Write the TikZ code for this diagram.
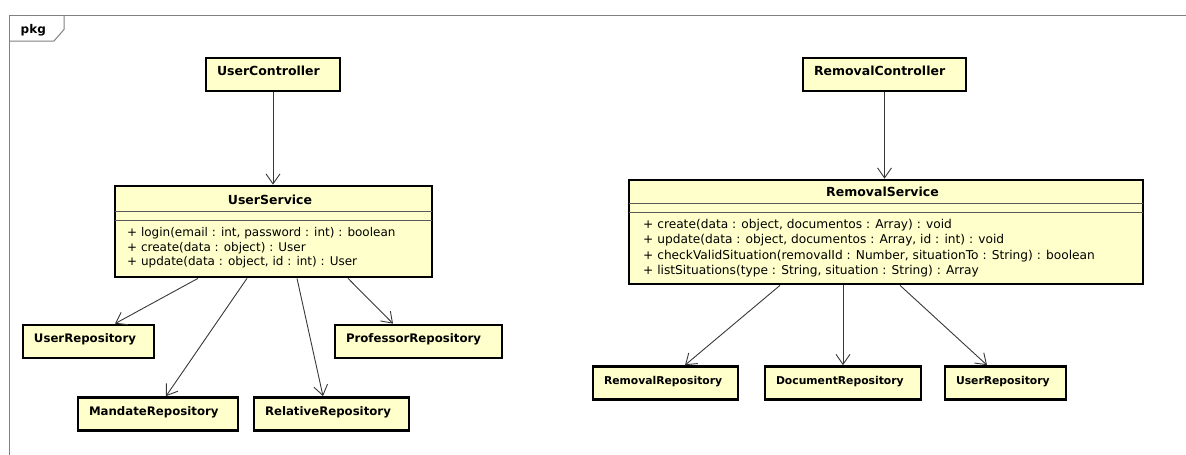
\documentclass[tikz,border=0pt]{standalone}
\usepackage{fontspec}
\setmainfont{DejaVu Sans}
\usetikzlibrary{arrows.meta}
\definecolor{clsfill}{HTML}{FFFFCC}
\definecolor{edgec}{HTML}{383838}
\definecolor{framec}{HTML}{808080}
\definecolor{sepc}{HTML}{5A5A5A}
\begin{document}
\begin{tikzpicture}[x=1pt,y=-1pt,
  cls/.style={draw=black, line width=2.7pt, fill=clsfill, inner sep=0pt},
  simplecls/.style={cls, inner xsep=11pt, minimum height=33pt, align=left,
    text height=9.5pt, text depth=7pt, font=\fontsize{12.5}{15}\selectfont\bfseries},
  leftrepo/.style={simplecls, font=\fontsize{11.75}{14}\selectfont\bfseries},
  rightrepo/.style={simplecls, font=\fontsize{10.8}{13}\selectfont\bfseries},
  clsname/.style={anchor=base, inner sep=0pt, font=\fontsize{12.5}{15}\selectfont\bfseries},
  method/.style={anchor=base west, inner sep=0pt, font=\fontsize{12}{14}\selectfont},
  rmethod/.style={method, font=\fontsize{12.2}{14}\selectfont},
  sepline/.style={draw=sepc, line width=1pt},
  dep/.style={draw=edgec, line width=0.9pt,
    -{Straight Barb[length=10pt,width=14pt,line width=0.9pt]}},
  framel/.style={draw=framec, line width=1pt}
]
\useasboundingbox (0,0) rectangle (1186,455);

% package frame and its tab
\draw[framel] (9.5,455) -- (9.5,15.5) -- (1186,15.5);
\draw[framel] (9.5,41) -- (54,41) -- (64,29.5) -- (64,15.5);
\node[anchor=base west, inner sep=0pt, font=\fontsize{12}{14}\selectfont\bfseries] (pkg) at (20.5,33.5) {pkg};

% ---------- user side ----------
\node[simplecls, text width=112pt] (uc) at (273,74.5) {UserController};

\node[cls, minimum width=317pt, minimum height=91pt] (us) at (273.5,231.5) {};
\node[clsname] (usname) at (270,204.5) {UserService};
\draw[sepline] (115,211) -- (432,211);
\draw[sepline] (115,220) -- (432,220);
\node[method] (usm1) at (127,236.5) {+ login(email : int, password : int) : boolean};
\node[method] (usm2) at (127,251) {+ create(data : object) : User};
\node[method] (usm3) at (127,265.5) {+ update(data : object, id : int) : User};

\node[leftrepo, text width=109pt] (urepo) at (88.5,341.5) {UserRepository};
\node[leftrepo, text width=145pt] (prepo) at (418.5,341.5) {ProfessorRepository};
\node[leftrepo, text width=138pt] (mrepo) at (158,414) {MandateRepository};
\node[leftrepo, text width=133pt] (rrepo) at (331.5,414) {RelativeRepository};

\draw[dep] (uc.south) -- (uc.south |- us.north);
\draw[dep] ([xshift=-75.5pt]us.south) -- ([xshift=26.5pt]urepo.north);
\draw[dep] ([xshift=-26.5pt]us.south) -- ([xshift=8pt]mrepo.north);
\draw[dep] ([xshift=23.5pt]us.south) -- ([xshift=-8.5pt]rrepo.north);
\draw[dep] ([xshift=74.5pt]us.south) -- ([xshift=-25.5pt]prepo.north);

% ---------- removal side ----------
\node[simplecls, text width=141pt] (rc) at (884.5,74.5) {RemovalController};

\node[cls, minimum width=514pt, minimum height=104pt] (rs) at (886,232) {};
\node[clsname] (rsname) at (882.5,196) {RemovalService};
\draw[sepline] (629,203) -- (1143,203);
\draw[sepline] (629,212) -- (1143,212);
\node[rmethod] (rsm1) at (643,228) {+ create(data : object, documentos : Array) : void};
\node[rmethod] (rsm2) at (643,243.5) {+ update(data : object, documentos : Array, id : int) : void};
\node[rmethod] (rsm3) at (643,259) {+ checkValidSituation(removalId : Number, situationTo : String) : boolean};
\node[rmethod] (rsm4) at (643,274) {+ listSituations(type : String, situation : String) : Array};

\node[rightrepo, text width=123pt] (rmrepo) at (665.5,383) {RemovalRepository};
\node[rightrepo, text width=134pt] (drepo) at (843,383) {DocumentRepository};
\node[rightrepo, text width=99pt] (urepo2) at (1005.5,383) {UserRepository};

\draw[dep] (rc.south) -- (rc.south |- rs.north);
\draw[dep] ([xshift=-106pt]rs.south) -- ([xshift=19.5pt]rmrepo.north);
\draw[dep] ([xshift=-43pt]rs.south) -- (drepo.north);
\draw[dep] ([xshift=14pt]rs.south) -- ([xshift=-18.5pt]urepo2.north);
\end{tikzpicture}
\end{document}
